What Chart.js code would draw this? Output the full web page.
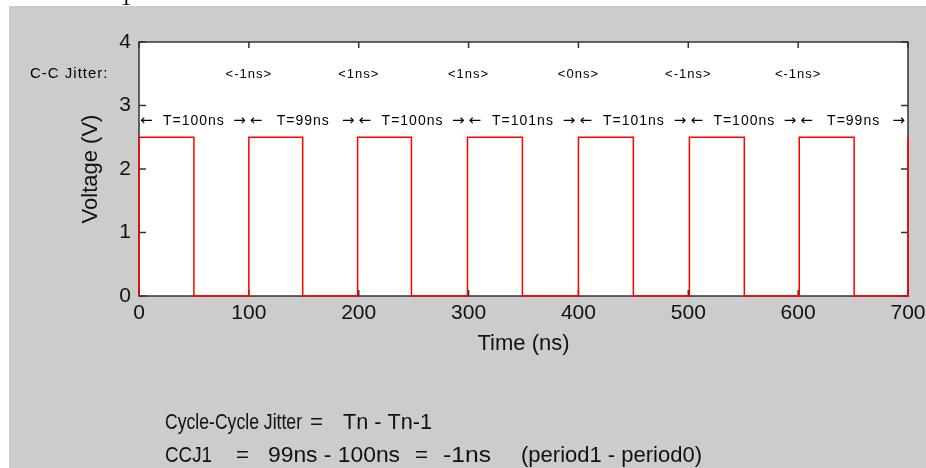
<!DOCTYPE html>
<html><head><meta charset="utf-8">
<script src="https://cdn.jsdelivr.net/npm/chart.js@4"></script>
<style>html,body{margin:0;padding:0;background:#fff;overflow:hidden}#wrap{width:926px;height:468px;position:relative}</style>
</head><body><div id="wrap"><canvas id="c" width="926" height="468"></canvas></div>
<script>
// ---- data ----
const riseTimes = [0, 100, 199, 299, 400, 501, 601, 700];   // ns
const fallTimes = [50, 149, 248, 349, 450, 551, 651];        // ns
const highVoltage = 2.5;   // V
const lowVoltage = 0;      // V
const periodLabels = ['T=100ns', 'T=99ns', 'T=100ns', 'T=101ns', 'T=101ns', 'T=100ns', 'T=99ns'];
const jitterPositions = [100, 200, 300, 400, 500, 600];     // ns
const jitterLabels = ['<-1ns>', '<1ns>', '<1ns>', '<0ns>', '<-1ns>', '<-1ns>'];
const xTicks = [0, 100, 200, 300, 400, 500, 600, 700];
const yTicks = [0, 1, 2, 3, 4];
const xTitle = 'Time (ns)';
const yTitle = 'Voltage (V)';
const rowTitle = 'C-C Jitter:';
const noteLine1 = ['Cycle-Cycle Jitter', '=', 'Tn - Tn-1'];
const noteLine2 = ['CCJ1', '=', '99ns - 100ns', '=', '-1ns', '(period1 - period0)'];

// ---- build waveform points ----
const wave = [];
riseTimes.forEach((t, i) => {
  wave.push({x: t, y: lowVoltage}, {x: t, y: highVoltage});
  if (i < fallTimes.length) wave.push({x: fallTimes[i], y: highVoltage}, {x: fallTimes[i], y: lowVoltage});
});

const JITTER_Y = 3.44, PERIOD_Y = 2.69;
const FONT = "'Liberation Sans', Arial, sans-serif";
Chart.defaults.font.family = FONT;
Chart.defaults.color = '#000';

// layout of the note pieces: [left x, target width]
const note1Layout = [[165, 137], [310, 13], [343, 89]];
const note2Layout = [[165, 47], [236, 13], [268, 132], [415, 13], [443, 48], [521, 181]];

function fitText(ctx, s, x, y, w) {
  const nat = ctx.measureText(s).width;
  const k = w / nat;
  ctx.save();
  ctx.translate(x, y); ctx.scale(k, 1);
  ctx.fillText(s, 0, 0);
  ctx.restore();
}

const deco = {
  id: 'deco',
  beforeDraw(chart) {
    const {ctx, chartArea: a} = chart;
    ctx.save();
    ctx.fillStyle = '#fff'; ctx.fillRect(0, 0, chart.width, chart.height);
    ctx.fillStyle = '#cccccc'; ctx.fillRect(9, 6, chart.width - 9, chart.height - 6);
    ctx.fillStyle = '#fff'; ctx.fillRect(a.left, a.top, a.right - a.left, a.bottom - a.top);
    // clipped glyph at the very top of the picture
    ctx.beginPath(); ctx.rect(0, 0, chart.width, 6); ctx.clip();
    ctx.fillStyle = '#000'; ctx.font = "22px 'Liberation Serif', serif";
    ctx.textAlign = 'center'; ctx.textBaseline = 'alphabetic';
    ctx.fillText('1', 126, 5);
    ctx.restore();
  },
  beforeDatasetsDraw(chart) {
    const {ctx, chartArea: a, scales: {x, y}} = chart;
    ctx.save();
    ctx.strokeStyle = '#333'; ctx.lineWidth = 1.5;
    ctx.strokeRect(a.left, a.top, a.right - a.left, a.bottom - a.top);
    ctx.beginPath();
    xTicks.forEach(v => {
      const px = x.getPixelForValue(v);
      ctx.moveTo(px, a.bottom); ctx.lineTo(px, a.bottom - 6);
      ctx.moveTo(px, a.top); ctx.lineTo(px, a.top + 6);
    });
    yTicks.forEach(v => {
      const py = y.getPixelForValue(v);
      ctx.moveTo(a.left, py); ctx.lineTo(a.left + 7, py);
      ctx.moveTo(a.right, py); ctx.lineTo(a.right - 7, py);
    });
    ctx.stroke();
    ctx.restore();
  },
  afterDatasetsDraw(chart) {
    const {ctx, scales: {x, y}} = chart;
    ctx.save();
    ctx.fillStyle = '#000';
    ctx.textBaseline = 'alphabetic';
    // jitter row
    ctx.font = '15px ' + FONT; ctx.letterSpacing = '1px'; ctx.textAlign = 'left';
    ctx.fillText(rowTitle, 30, y.getPixelForValue(JITTER_Y));
    ctx.font = '13px ' + FONT; ctx.textAlign = 'center';
    jitterLabels.forEach((s, i) => ctx.fillText(s, x.getPixelForValue(jitterPositions[i]), y.getPixelForValue(JITTER_Y)));
    // period row
    const py = y.getPixelForValue(PERIOD_Y);
    periodLabels.forEach((s, i) => {
      const x0 = x.getPixelForValue(riseTimes[i]), x1 = x.getPixelForValue(riseTimes[i + 1]);
      ctx.font = '14px ' + FONT; ctx.letterSpacing = '1px';
      ctx.textAlign = 'center'; ctx.fillText(s, (x0 + x1) / 2, py);
      ctx.font = "15px 'DejaVu Sans', sans-serif"; ctx.letterSpacing = '0px';
      ctx.textAlign = 'left'; ctx.fillText('\u2190', x0 + 1, py);
      ctx.textAlign = 'right'; ctx.fillText('\u2192', x1 - 3, py);
    });
    // notes below
    ctx.letterSpacing = '0px';
    ctx.font = '22px ' + FONT; ctx.textAlign = 'left';
    ctx.fillStyle = '#111';
    noteLine1.forEach((s, i) => fitText(ctx, s, note1Layout[i][0], 429, note1Layout[i][1]));
    noteLine2.forEach((s, i) => fitText(ctx, s, note2Layout[i][0], 462, note2Layout[i][1]));
    ctx.restore();
  }
};

new Chart(document.getElementById('c'), {
  type: 'scatter',
  data: {datasets: [{
    data: wave, showLine: true, borderColor: '#ff0000', borderWidth: 1.5,
    pointRadius: 0, pointHoverRadius: 0, fill: false, tension: 0, clip: false
  }]},
  options: {
    responsive: false, animation: false, events: [],
    layout: {padding: {top: 42, right: 18, left: 0, bottom: 111}},
    plugins: {legend: {display: false}, tooltip: {enabled: false}},
    scales: {
      x: {
        type: 'linear', min: 0, max: 700,
        afterBuildTicks: s => { s.ticks = xTicks.map(v => ({value: v})); },
        afterFit: s => { s.height = 61; s.paddingLeft = 0; s.paddingRight = 0; },
        grid: {display: false, drawTicks: false}, border: {display: false},
        ticks: {font: {size: 21}, padding: 5, maxRotation: 0, autoSkip: false, color: '#111'},
        title: {display: true, text: xTitle, font: {size: 22}, padding: {top: 0, bottom: 0}, color: '#111'}
      },
      y: {
        type: 'linear', min: 0, max: 4,
        afterBuildTicks: s => { s.ticks = yTicks.map(v => ({value: v})); },
        afterFit: s => { s.width = 139; s.paddingTop = 0; s.paddingBottom = 0; },
        grid: {display: false, drawTicks: false}, border: {display: false},
        ticks: {font: {size: 21}, padding: 8, color: '#111'},
        title: {display: true, text: yTitle, font: {size: 22}, padding: {top: 78, bottom: 0}, color: '#111'}
      }
    }
  },
  plugins: [deco]
});
</script></body></html>
